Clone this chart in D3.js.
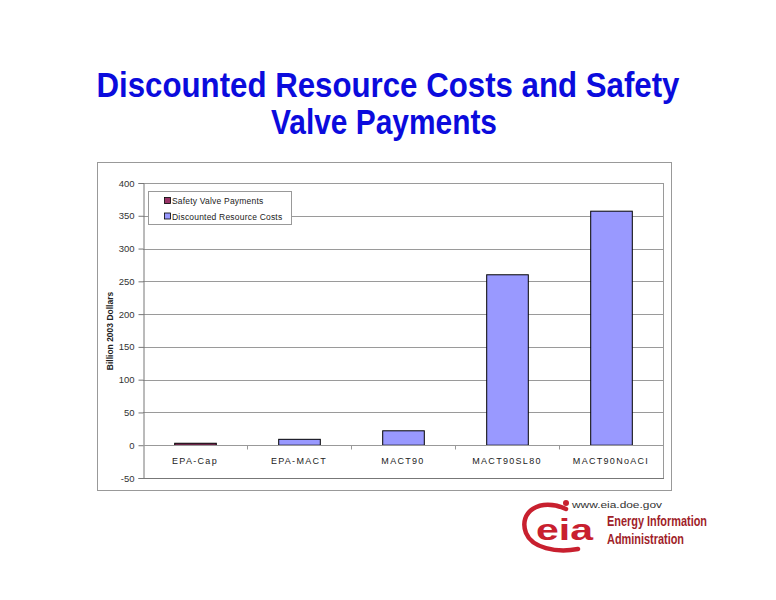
<!DOCTYPE html>
<html><head><meta charset="utf-8">
<script src="https://cdn.jsdelivr.net/npm/d3@7"></script>
<style>
body{margin:0;background:#fff;}
svg{display:block;}
</style></head>
<body>
<svg id="c" width="776" height="600"></svg>
<script>
const categories = ["EPA-Cap","EPA-MACT","MACT90","MACT90SL80","MACT90NoACI"];
const safetyValvePayments = [3,0,0,0,0];
const discountedResourceCosts = [0,9,22,260,357];
const seriesNames = ["Safety Valve Payments","Discounted Resource Costs"];
const seriesColors = ["#993366","#9999FF"];
const yTicks = [-50,0,50,100,150,200,250,300,350,400];

const svg = d3.select("#c");
const font = "Liberation Sans, Arial, sans-serif";

// Title
const tg = svg.append("g").attr("transform","translate(0,97) scale(1,1.12)");
tg.append("text").attr("x",388).attr("y",0).attr("text-anchor","middle")
  .attr("font-family",font).attr("font-weight","bold").attr("font-size",30.5)
  .attr("textLength",583).attr("lengthAdjust","spacingAndGlyphs")
  .attr("fill","#0B0BDD").text("Discounted Resource Costs and Safety");
tg.append("text").attr("x",384).attr("y",33).attr("text-anchor","middle")
  .attr("font-family",font).attr("font-weight","bold").attr("font-size",30.5)
  .attr("textLength",226).attr("lengthAdjust","spacingAndGlyphs")
  .attr("fill","#0B0BDD").text("Valve Payments");

// Chart frame
svg.append("rect").attr("x",97.5).attr("y",162.5).attr("width",574).attr("height",328)
  .attr("fill","#fff").attr("stroke","#999").attr("stroke-width",1);

const L=143, R=663, T=183, B=478;
const x = d3.scaleBand().domain(categories).range([L,R]).paddingInner(0.6).paddingOuter(0.3);
const xb = d3.scaleBand().domain(categories).range([L,R]);
const y = d3.scaleLinear().domain([-50,400]).range([B,T]);

// Gridlines
svg.append("g").selectAll("line").data(yTicks.filter(d=>d>-50)).join("line")
  .attr("x1",L).attr("x2",R).attr("y1",d=>Math.round(y(d))+0.5).attr("y2",d=>Math.round(y(d))+0.5)
  .attr("stroke","#9a9a9a").attr("stroke-width",1);
svg.append("line").attr("x1",R+0.5).attr("x2",R+0.5).attr("y1",T).attr("y2",B)
  .attr("stroke","#9a9a9a");

// Stacked bars
const stackData = categories.map((c,i)=>({cat:c, s0:safetyValvePayments[i], s1:discountedResourceCosts[i]}));
const stack = d3.stack().keys(["s0","s1"]);
const layers = stack(stackData);
svg.append("g").selectAll("g").data(layers).join("g")
  .attr("fill",(d,i)=>seriesColors[i])
  .selectAll("rect").data(d=>d.filter(e=>e[1]-e[0]>0)).join("rect")
  .attr("x",d=>x(d.data.cat)+0.5)
  .attr("width",x.bandwidth())
  .attr("y",d=>y(d[1]))
  .attr("height",d=>y(d[0])-y(d[1]))
  .attr("stroke","#000").attr("stroke-width",1);

// Y axis
const yAxis = d3.axisLeft(y).tickValues(yTicks).tickSize(5).tickPadding(4).tickFormat(d=>String(d));
const gy = svg.append("g").attr("transform",`translate(${L+0.5},0)`).call(yAxis);
gy.select(".domain").attr("stroke","#777");
gy.selectAll(".tick line").attr("stroke","#777");
gy.selectAll("text").attr("font-family",font).attr("font-size",9.5).attr("fill","#333");

svg.append("line").attr("x1",L).attr("x2",R+1).attr("y1",B+0.5).attr("y2",B+0.5).attr("stroke","#777");

// Category axis at zero
const y0 = Math.round(y(0))+0.5;
svg.append("line").attr("x1",L).attr("x2",R).attr("y1",y0).attr("y2",y0).attr("stroke","#999");
svg.append("g").selectAll("line").data(categories.slice(1)).join("line")
  .attr("x1",d=>xb(d)+0.5).attr("x2",d=>xb(d)+0.5).attr("y1",y0).attr("y2",y0+4)
  .attr("stroke","#999");
svg.append("g").selectAll("text").data(categories).join("text")
  .attr("x",d=>xb(d)+xb.bandwidth()/2).attr("y",y0+18).attr("text-anchor","middle")
  .attr("font-family",font).attr("font-size",9).attr("letter-spacing",1.3).attr("fill","#222")
  .text(d=>d);

// Y title
svg.append("text").attr("transform","translate(113,331) rotate(-90)").attr("text-anchor","middle")
  .attr("font-family",font).attr("font-weight","bold").attr("font-size",8.5).attr("fill","#222")
  .text("Billion 2003 Dollars");

// Legend
const lg = svg.append("g");
lg.append("rect").attr("x",148.5).attr("y",191.5).attr("width",143).attr("height",33)
  .attr("fill","#fff").attr("stroke","#999");
seriesNames.forEach((n,i)=>{
  const yy = 201 + i*15.5;
  lg.append("rect").attr("x",164.5).attr("y",yy-3.5).attr("width",6).attr("height",6)
    .attr("fill",seriesColors[i]).attr("stroke","#000").attr("stroke-width",0.8);
  lg.append("text").attr("x",172).attr("y",yy+3).attr("font-family",font).attr("font-size",8.5)
    .attr("letter-spacing",0.2).attr("fill","#222").text(n);
});

// EIA logo
const logo = svg.append("g");
const red = "#C8202F";
logo.append("path").attr("d","M566,509 C540,497 518,512 526,533 C532,548 556,553 578,549")
  .attr("fill","none").attr("stroke",red).attr("stroke-width",4.5).attr("stroke-linecap","round");
logo.append("circle").attr("cx",566).attr("cy",503).attr("r",3).attr("fill",red);
logo.append("text").attr("x",536).attr("y",540).attr("font-family",font).attr("font-weight","bold")
  .attr("font-size",30).attr("textLength",57).attr("lengthAdjust","spacingAndGlyphs")
  .attr("fill",red).text("eia");
logo.append("text").attr("x",572).attr("y",508).attr("font-family",font).attr("font-size",9.5)
  .attr("textLength",90).attr("lengthAdjust","spacingAndGlyphs")
  .attr("fill","#333").text("www.eia.doe.gov");
logo.append("text").attr("x",607).attr("y",526).attr("font-family",font)
  .attr("font-weight","bold").attr("font-size",15.5).attr("textLength",100).attr("lengthAdjust","spacingAndGlyphs")
  .attr("fill","#A01E2A").text("Energy Information");
logo.append("text").attr("x",607).attr("y",544).attr("font-family",font)
  .attr("font-weight","bold").attr("font-size",15.5).attr("textLength",77).attr("lengthAdjust","spacingAndGlyphs")
  .attr("fill","#A01E2A").text("Administration");
</script>
</body></html>
